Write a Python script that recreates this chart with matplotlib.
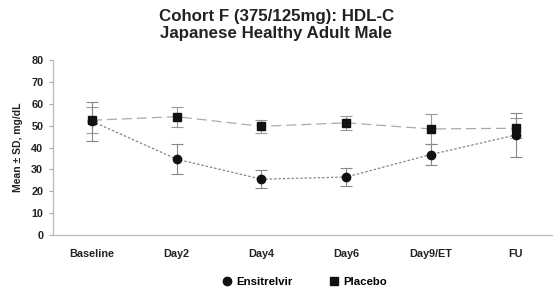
import numpy as np
import matplotlib
matplotlib.use("Agg")
import matplotlib.pyplot as plt

plt.rcParams['font.family'] = ['Liberation Sans', 'DejaVu Sans']

visits = ["Baseline", "Day2", "Day4", "Day6", "Day9/ET", "FU"]
ens_mean = [52.0, 34.7, 25.5, 26.5, 36.8, 45.7]
ens_sd = [9.0, 7.0, 4.0, 4.0, 5.0, 10.0]
pbo_mean = [52.5, 54.1, 49.7, 51.3, 48.5, 48.8]
pbo_sd = [6.0, 4.5, 3.0, 3.2, 7.0, 4.5]

fig = plt.figure(figsize=(5.53, 2.97), dpi=100)
ax = fig.add_axes([0.0958, 0.2088, 0.904, 0.589])

x = np.arange(len(visits))

ax.errorbar(x, pbo_mean, yerr=pbo_sd, fmt='none', ecolor='#999999',
            elinewidth=0.8, capsize=4, capthick=0.8, zorder=2)
ax.errorbar(x, ens_mean, yerr=ens_sd, fmt='none', ecolor='#888888',
            elinewidth=0.8, capsize=4, capthick=0.8, zorder=2)
ax.plot(x, pbo_mean, linestyle=(0, (8, 4)), color='#aaaaaa', linewidth=0.9,
        marker='s', markersize=6, markerfacecolor='#111111',
        markeredgecolor='#111111', zorder=3, label='Placebo')
ax.plot(x, ens_mean, linestyle=(0, (2, 1.5)), color='#888888', linewidth=0.9,
        marker='o', markersize=6, markerfacecolor='#111111',
        markeredgecolor='#111111', zorder=4, label='Ensitrelvir')

ax.set_xlim(-0.46, 5.44)
ax.set_ylim(0, 80)
ax.set_yticks(range(0, 81, 10))
ax.set_xticks(x)
ax.set_xticklabels(visits, fontsize=7.8, fontweight='bold', color='#222222')
for lab in ax.get_yticklabels():
    lab.set_fontsize(7.8)
    lab.set_fontweight('bold')
    lab.set_color('#222222')
ax.tick_params(axis='x', length=0, pad=10)
ax.tick_params(axis='y', length=3, color='#aaaaaa', width=0.8, pad=4)
for s in ['top', 'right']:
    ax.spines[s].set_visible(False)
for s in ['left', 'bottom']:
    ax.spines[s].set_color('#bbbbbb')
    ax.spines[s].set_linewidth(0.9)

ax.set_ylabel("Mean \u00b1 SD, mg/dL", fontsize=7.5, fontweight='bold',
              color='#222222', labelpad=6)

fig.suptitle("Cohort F (375/125mg): HDL-C\nJapanese Healthy Adult Male",
             fontsize=12.2, fontweight='bold', color='#222222', y=0.97,
             x=0.5, linespacing=1.2)

h_e = plt.Line2D([], [], linestyle='none', marker='o', markersize=6,
                 color='#111111')
h_p = plt.Line2D([], [], linestyle='none', marker='s', markersize=5.5,
                 color='#111111')
fig.legend([h_e, h_p], ["Ensitrelvir", "Placebo"], loc='center',
           bbox_to_anchor=(0.55, 0.05), ncol=2, frameon=False,
           prop={'size': 8.2, 'weight': 'bold'}, handletextpad=0.3,
           columnspacing=3.2, handlelength=1.0)

fig.savefig("out.png", dpi=100)
